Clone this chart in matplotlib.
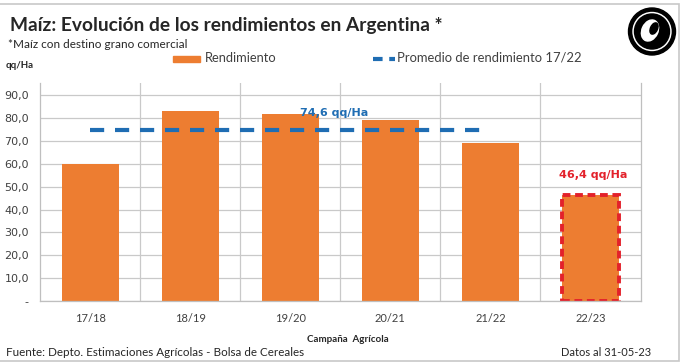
import matplotlib
matplotlib.use("Agg")
import matplotlib.pyplot as plt
from matplotlib.patches import Rectangle, Circle, Ellipse
from matplotlib.lines import Line2D

# === DATA ===
campanas = ["17/18", "18/19", "19/20", "20/21", "21/22", "22/23"]
rendimiento = [60.0, 83.3, 81.6, 79.1, 69.0, 46.4]
promedio = 74.6          # promedio 17/22
n_prom = 5               # campañas incluidas en el promedio
y_ticks = [0, 10, 20, 30, 40, 50, 60, 70, 80, 90]
y_labels = ["-", "10,0", "20,0", "30,0", "40,0", "50,0", "60,0", "70,0", "80,0", "90,0"]

ORANGE = "#ED7D31"
BLUE = "#1F6DB3"
RED = "#E3212B"
GRID = "#C9C9C9"
TXT = "#404040"
CAL = ["Lato", "DejaVu Sans"]


def coma(v):
    return f"{v:.1f}".replace(".", ",")


fig = plt.figure(figsize=(6.84, 3.63), dpi=100)
ax = fig.add_axes([0.0585, 0.171, 0.878, 0.600])

x = list(range(len(campanas)))
bars = ax.bar(x, rendimiento, width=0.57, color=ORANGE, zorder=2)
# last campaign (estimate) highlighted with dashed red border
bars[-1].set_edgecolor(RED)
bars[-1].set_linewidth(2.8)
bars[-1].set_linestyle((0, (2.0, 1.2)))

# average line
ln, = ax.plot([x[0], x[n_prom - 1]], [promedio, promedio], color=BLUE, lw=3.0, zorder=3)
ln.set_dashes([3.4, 2.6])

ax.text(2.44, promedio + 7.6, coma(promedio) + " qq/Ha",
        color=BLUE, fontsize=8, fontweight="bold", ha="center", va="center", zorder=4)
ax.text(x[-1] + 0.03, rendimiento[-1] + 8.6, coma(rendimiento[-1]) + " qq/Ha",
        color=RED, fontsize=8, fontweight="bold", ha="center", va="center")

ax.set_xlim(-0.5, len(campanas) - 0.5)
ax.set_ylim(0, 95.3)
ax.set_yticks(y_ticks)
ax.set_yticklabels(y_labels, fontsize=8, color=TXT)
ax.set_xticks(x)
ax.set_xticklabels(campanas, fontsize=8, color=TXT, family=CAL)
ax.set_xticks([i + 0.5 for i in x[:-1]], minor=True)
ax.tick_params(axis="both", which="both", length=0)
ax.tick_params(axis="x", pad=9)
ax.tick_params(axis="y", pad=8)
ax.grid(axis="y", color=GRID, lw=0.9, zorder=0)
ax.grid(axis="x", which="minor", color=GRID, lw=0.9, zorder=0)
for s in ["left", "bottom", "right"]:
    ax.spines[s].set_color("#BFBFBF")
    ax.spines[s].set_linewidth(0.9)
ax.spines["top"].set_visible(False)

# === TEXTS ===
fig.text(10 / 684, 1 - 26 / 363, "Maíz: Evolución de los rendimientos en Argentina *", family=CAL,
         fontsize=13.8, fontweight="bold", color="#262626", va="center")
fig.text(8 / 684, 1 - 45 / 363, "*Maíz con destino grano comercial", family=CAL, fontsize=8.5,
         color="#262626", va="center")
fig.text(6 / 684, 1 - 65 / 363, "qq/Ha", family=CAL, fontsize=7, fontweight="bold", color="#262626",
         va="center")

# legend
fig.patches.append(Rectangle((173 / 684, 1 - 62 / 363), 27 / 684, 6 / 363, color=ORANGE,
                             transform=fig.transFigure, figure=fig))
fig.text(205 / 684, 1 - 58 / 363, "Rendimiento", family=CAL, fontsize=9.3, color=TXT, va="center")
leg_line = Line2D([373 / 684, 395 / 684], [1 - 58.5 / 363, 1 - 58.5 / 363], transform=fig.transFigure,
                  color=BLUE, lw=3.0)
leg_line.set_dashes([2.3, 1.6])
fig.lines.append(leg_line)
fig.text(397 / 684, 1 - 58 / 363, "Promedio de rendimiento 17/22", family=CAL, fontsize=9.4,
         color=TXT, va="center")

fig.text(348 / 684, 1 - 339 / 363, "Campaña  Agrícola", family=CAL, fontsize=7, fontweight="bold",
         color="#262626", ha="center", va="center")
fig.text(6 / 684, 1 - 352 / 363, "Fuente: Depto. Estimaciones Agrícolas - Bolsa de Cereales", family=CAL,
         fontsize=8.4, color="#262626", va="center")
fig.text(651 / 684, 1 - 352 / 363, "Datos al 31-05-23", family=CAL, fontsize=8, color="#262626",
         ha="right", va="center")

# frame and logo
fig.patches.append(Rectangle((-0.01, 0.0055), 0.993 + 0.01, 0.9835, fill=False, ec="#C8C8C8", lw=1.2,
                             transform=fig.transFigure, figure=fig))
inch = fig.dpi_scale_trans
cx, cy = 6.52, 3.63 - 0.315
fig.patches.append(Circle((cx, cy), 0.235, transform=inch, color="black", figure=fig))
fig.patches.append(Circle((cx, cy), 0.19, transform=inch, color="white", figure=fig))
fig.patches.append(Circle((cx, cy), 0.175, transform=inch, color="black", figure=fig))
fig.patches.append(Ellipse((cx - 0.02, cy + 0.01), 0.16, 0.22, angle=-25, transform=inch,
                           color="white", figure=fig))
fig.patches.append(Ellipse((cx + 0.02, cy + 0.03), 0.07, 0.12, angle=-25, transform=inch,
                           color="black", figure=fig))

fig.savefig("out.png", dpi=100)
